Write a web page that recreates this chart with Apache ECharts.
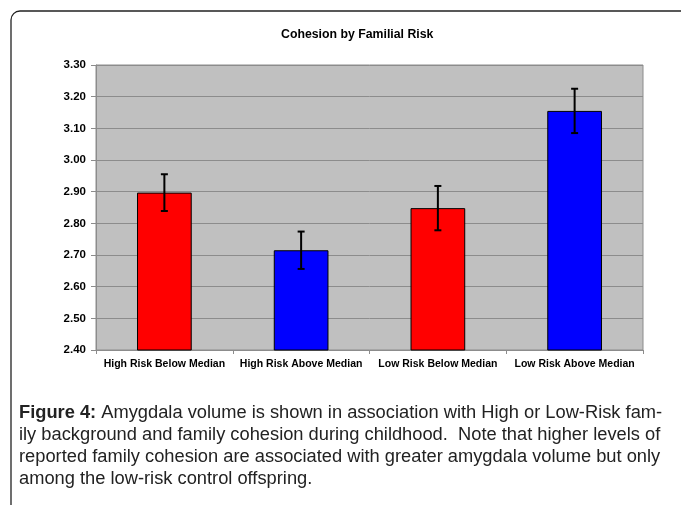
<!DOCTYPE html>
<html>
<head>
    <meta charset="utf-8">
    <title>Cohesion by Familial Risk</title>
    <script src="https://cdn.jsdelivr.net/npm/echarts@6/dist/echarts.min.js"></script>
    <style>
        html, body { margin: 0; padding: 0; background: #fff; }
    </style>
</head>
<body>
    <div id="main" style="width: 681px;height:505px;"></div>

    <script type="text/javascript">

        // data
        var categories = ['High Risk Below Median', 'High Risk Above Median', 'Low Risk Below Median', 'Low Risk Above Median'];
        var means = [2.897, 2.715, 2.848, 3.155];
        var errors = [0.058, 0.059, 0.070, 0.070];
        var barColors = ['#ff0000', '#0000ff', '#ff0000', '#0000ff'];
        var yTicks = [2.40, 2.50, 2.60, 2.70, 2.80, 2.90, 3.00, 3.10, 3.20, 3.30];

        var captionLines = [
            ['Figure 4:', ' Amygdala volume is shown in association with High or Low-Risk fam-'],
            ['', 'ily background and family cohesion during childhood.  Note that higher levels of'],
            ['', 'reported family cohesion are associated with greater amygdala volume but only'],
            ['', 'among the low-risk control offspring.']
        ];

        var font = 'Arial, "Liberation Sans", sans-serif';

        var barData = means.map(function (v, i) {
            return { value: v, itemStyle: { color: barColors[i] } };
        });
        var errData = means.map(function (v, i) {
            return [i, v - errors[i], v + errors[i]];
        });

        // frame + caption as graphic elements
        var graphics = [{
            type: 'rect',
            shape: { x: 11, y: 11, width: 720, height: 520, r: 9 },
            style: { fill: 'none', stroke: '#222', lineWidth: 1.3 },
            silent: true
        }];
        captionLines.forEach(function (ln, i) {
            graphics.push({
                type: 'text',
                x: 19, y: 413 + i * 22,
                style: {
                    text: (ln[0] ? '{b|' + ln[0] + '}' : '') + '{n|' + ln[1] + '}',
                    verticalAlign: 'middle',
                    rich: {
                        b: { fontFamily: font, fontSize: 18.3, fontWeight: 'bold', fill: '#222' },
                        n: { fontFamily: font, fontSize: 18.3, fill: '#222' }
                    }
                }
            });
        });

        var myChart = echarts.init(document.getElementById('main'));

        var option = {
            animation: false,
            title: {
                text: 'Cohesion by Familial Risk',
                left: 276,
                top: 24,
                textStyle: { fontFamily: font, fontSize: 12.3, fontWeight: 'bold', color: '#000' }
            },
            grid: {
                left: 96, right: 38, top: 65, bottom: 155,
                show: true,
                backgroundColor: '#c0c0c0',
                borderColor: '#8c8c8c',
                borderWidth: 1
            },
            xAxis: {
                type: 'category',
                data: categories,
                axisLine: { lineStyle: { color: '#8c8c8c' } },
                axisTick: { show: true, length: 4, lineStyle: { color: '#8c8c8c' } },
                axisLabel: {
                    margin: 9,
                    interval: 0,
                    fontFamily: font, fontSize: 10.5, fontWeight: 'bold', color: '#000'
                }
            },
            yAxis: {
                type: 'value',
                min: yTicks[0],
                max: yTicks[yTicks.length - 1],
                interval: 0.1,
                axisLine: { show: true, lineStyle: { color: '#8c8c8c' } },
                axisTick: { show: true, length: 5, lineStyle: { color: '#8c8c8c' } },
                splitLine: { lineStyle: { color: '#8c8c8c', width: 1 } },
                axisLabel: {
                    margin: 10,
                    fontFamily: font, fontSize: 11.5, fontWeight: 'bold', color: '#000',
                    formatter: function (v) { return v.toFixed(2); }
                }
            },
            series: [{
                type: 'bar',
                data: barData,
                barWidth: '40%',
                itemStyle: { borderColor: '#000', borderWidth: 1 }
            }, {
                type: 'custom',
                data: errData,
                z: 10,
                renderItem: function (params, api) {
                    var lo = api.coord([api.value(0), api.value(1)]);
                    var hi = api.coord([api.value(0), api.value(2)]);
                    var hw = 3.5;
                    var st = { stroke: '#000', lineWidth: 2 };
                    return {
                        type: 'group',
                        children: [
                            { type: 'line', shape: { x1: hi[0], y1: hi[1], x2: lo[0], y2: lo[1] }, style: st },
                            { type: 'line', shape: { x1: hi[0] - hw, y1: hi[1], x2: hi[0] + hw, y2: hi[1] }, style: st },
                            { type: 'line', shape: { x1: lo[0] - hw, y1: lo[1], x2: lo[0] + hw, y2: lo[1] }, style: st }
                        ]
                    };
                }
            }],
            graphic: graphics
        };

        myChart.setOption(option);
    </script>
</body>
</html>
